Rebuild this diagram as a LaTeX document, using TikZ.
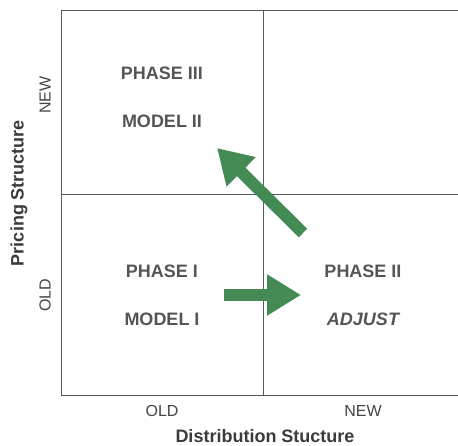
\documentclass[tikz,border=0pt]{standalone}
\usepackage{fontspec}
\setmainfont{Liberation Sans}
\usepackage{xcolor}
\usetikzlibrary{arrows.meta,positioning}

\definecolor{gridgray}{HTML}{5A5A5A}
\definecolor{txtgray}{HTML}{555555}
\definecolor{arrgreen}{HTML}{438A55}

\tikzset{
  phase/.style={font=\fontsize{18}{20}\selectfont\bfseries,text=txtgray},
  tick/.style={font=\fontsize{16}{18}\selectfont,text=txtgray!80!black},
  axislab/.style={font=\fontsize{18}{20}\selectfont\bfseries,text=txtgray!70!black},
  bigarrow/.style={draw=arrgreen,line width=12pt,-{Triangle[length=34pt,width=39pt]},arrgreen}
}

\begin{document}
\begin{tikzpicture}[x=1pt,y=-1pt]
\useasboundingbox (0,0) rectangle (458,446);
% grid
\draw[gridgray,line width=1pt] (458,11) -- (61,11) -- (61,395) -- (458,395);
\draw[gridgray,line width=1pt] (263,11) -- (263,395);
\draw[gridgray,line width=1pt] (61,194.5) -- (458,194.5);
% quadrant texts
\node[phase] (ph3) at (162,73) {PHASE III};
\node[phase] (mod2) at (162,121) {MODEL II};
\node[phase] (ph1) at (162,271) {PHASE I};
\node[phase] (mod1) at (162,319) {MODEL I};
\node[phase] (ph2) at (363,271) {PHASE II};
\node[phase,font=\fontsize{18}{20}\selectfont\bfseries\itshape] (adj) at (363,319) {ADJUST};
% axes
\node[tick] (xold) at (162,411) {OLD};
\node[tick] (xnew) at (363,411) {NEW};
\node[tick,rotate=90] (yold) at (45,295) {OLD};
\node[tick,rotate=90] (ynew) at (45,95) {NEW};
\node[axislab,inner sep=1pt] (xlab) at (265,436) {Distribution Stucture};
\node[axislab,rotate=90] (ylab) at (19,193) {Pricing Structure};
% arrows
\coordinate (r1) at (224,295);
\coordinate (r2) at (301,295);
\coordinate (d1) at (303,233);
\coordinate (d2) at (217,148);
\draw[bigarrow] (r1) -- (r2);
\draw[bigarrow] (d1) -- (d2);
\end{tikzpicture}
\end{document}
